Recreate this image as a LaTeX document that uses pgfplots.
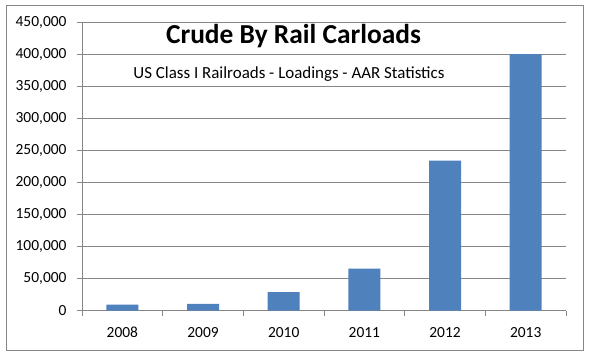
\documentclass[border=0pt]{standalone}
\usepackage{fontspec}
\setmainfont{Carlito}
\usepackage{pgfplots}
\pgfplotsset{compat=1.18}
\definecolor{axgray}{HTML}{868686}
\definecolor{barblue}{HTML}{4F81BD}
\begin{document}
\begin{tikzpicture}[x=1bp,y=1bp]
\useasboundingbox (0,0) rectangle (590,358);
\fill[white] (0,0) rectangle (590,358);
\draw[axgray, line width=0.9bp] (6,8) rectangle (583,353);
\begin{axis}[
  at={(82bp,47.3bp)}, anchor=south west,
  scale only axis, width=484bp, height=288.7bp,
  xmin=-0.5, xmax=5.5, ymin=0, ymax=450000,
  axis lines=left,
  axis line style={-, draw=axgray, line width=0.8bp},
  ytick={0,50000,100000,150000,200000,250000,300000,350000,400000,450000},
  yticklabels={0,{50,000},{100,000},{150,000},{200,000},{250,000},{300,000},{350,000},{400,000},{450,000}},
  ymajorgrids, grid style={draw=axgray, line width=0.8bp},
  xtick={0,1,2,3,4,5},
  xticklabels={2008,2009,2010,2011,2012,2013},
  minor xtick={-0.5,0.5,1.5,2.5,3.5,4.5,5.5},
  xtick style={draw=none},
  minor x tick style={draw=axgray, line width=0.8bp},
  ytick style={draw=axgray, line width=0.8bp},
  tick align=outside,
  major tick length=5bp, minor tick length=5bp,
  scaled y ticks=false,
  tick label style={font=\fontsize{15.5}{18}\selectfont, text=black},
  yticklabel style={xshift=-7bp},
  xticklabel style={yshift=-8bp},
  clip=false,
]
\addplot[ybar, bar width=32bp, fill=barblue, draw=none] coordinates {
  (0,9500) (1,10800) (2,29000) (3,65751) (4,233811) (5,400000)
};
\end{axis}
\node[anchor=base, font=\fontsize{27.5}{32}\selectfont\bfseries] at (293.5,314.7) {Crude By Rail Carloads};
\node[anchor=base, font=\fontsize{17}{20}\selectfont] at (289,279.7) {US Class I Railroads - Loadings - AAR Statistics};
\end{tikzpicture}
\end{document}
